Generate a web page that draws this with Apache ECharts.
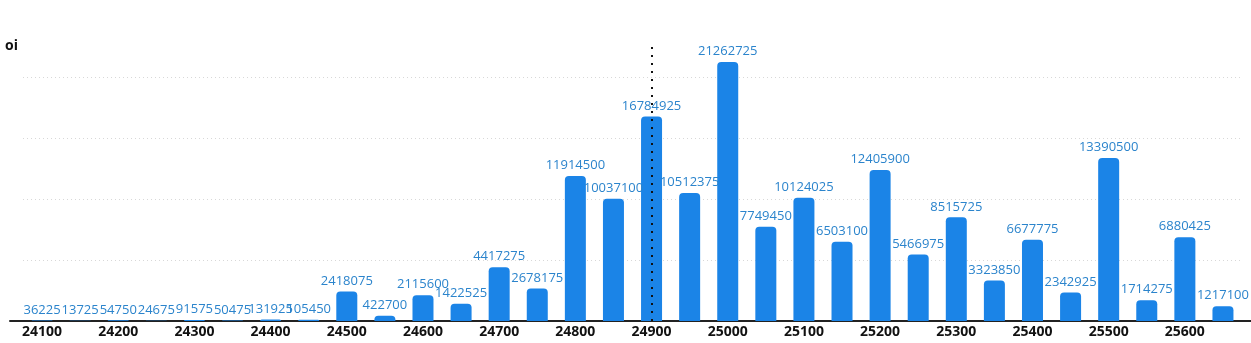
<!DOCTYPE html>
<html>
<head>
<meta charset="utf-8">
<script src="https://cdn.jsdelivr.net/npm/echarts@6/dist/echarts.min.js"></script>
<style>html,body{margin:0;padding:0;background:#fff}#c{width:1251px;height:343px}</style>
</head>
<body>
<div id="c"></div>
<script>
var categories = ['24100','24150','24200','24250','24300','24350','24400','24450','24500','24550','24600','24650','24700','24750','24800','24850','24900','24950','25000','25050','25100','25150','25200','25250','25300','25350','25400','25450','25500','25550','25600','25650'];
var oiValues = [36225,13725,54750,24675,91575,50475,131925,105450,2418075,422700,2115600,1422525,4417275,2678175,11914500,10037100,16784925,10512375,21262725,7749450,10124025,6503100,12405900,5466975,8515725,3323850,6677775,2342925,13390500,1714275,6880425,1217100];
var markStrike = '24900';
var axisName = 'oi';

var chart = echarts.init(document.getElementById('c'));
chart.setOption({
  animation: false,
  grid: [
    {left: 23, right: 9, top: 45, bottom: 22},
    {left: 10, right: 0, top: 45, bottom: 22}
  ],
  xAxis: [{
    type: 'category', data: categories, gridIndex: 0,
    axisLine: {show: false},
    axisTick: {show: false},
    axisLabel: {interval: 1, color: '#111', fontWeight: 'bold', fontSize: 14, fontFamily: 'Open Sans', margin: 4}
  }, {
    type: 'category', data: categories, gridIndex: 1,
    axisLine: {show: true, lineStyle: {color: '#222', width: 2}},
    axisTick: {show: false}, axisLabel: {show: false}
  }],
  yAxis: [{
    type: 'value', gridIndex: 0, min: 0,
    max: function (v) { return v.max * 1.066; },
    interval: 5000000,
    name: axisName, nameLocation: 'end', nameGap: -8,
    nameTextStyle: {color: '#111', fontWeight: 'bold', fontSize: 14, fontFamily: 'Open Sans', align: 'right', padding: [0, 5, 0, 0]},
    axisLine: {show: false}, axisTick: {show: false}, axisLabel: {show: false},
    splitLine: {show: true, showMaxLine: false, lineStyle: {color: '#d8d8d8', type: [1, 3]}}
  }, {
    type: 'value', gridIndex: 1, show: false
  }],
  series: [{
    type: 'bar', xAxisIndex: 0, yAxisIndex: 0,
    data: oiValues, barWidth: 21,
    itemStyle: {color: '#1b84e7', borderRadius: [4, 4, 0, 0]},
    label: {show: true, position: 'top', distance: 4, color: '#2b84cc', fontSize: 13, fontFamily: 'Open Sans'},
    markLine: {
      silent: true, symbol: ['none', 'none'],
      label: {show: false},
      lineStyle: {color: '#111', type: [2, 6], width: 2},
      data: [{xAxis: markStrike}]
    }
  }]
});
</script>
</body>
</html>
